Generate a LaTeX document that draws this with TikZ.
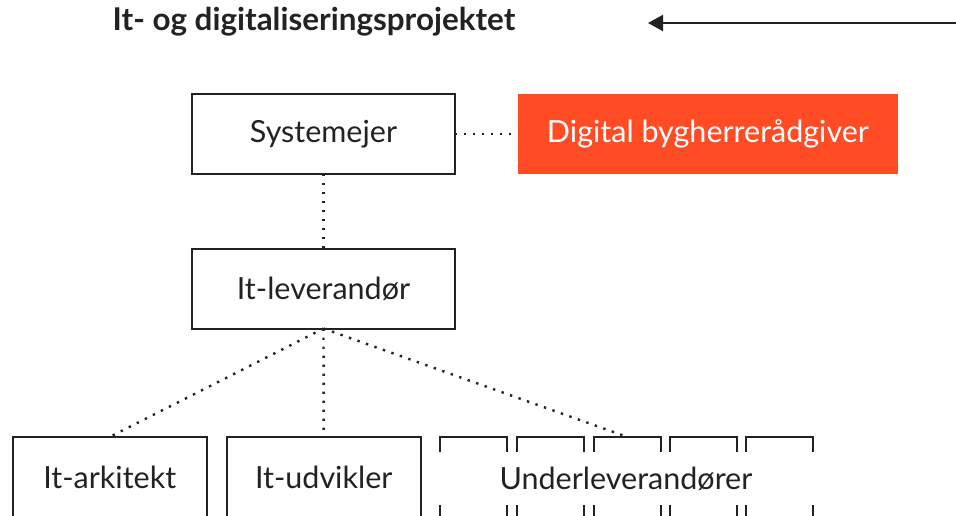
\documentclass[tikz,border=0pt]{standalone}
\usepackage{fontspec}
\setmainfont{Lato}
\usetikzlibrary{arrows.meta}
\definecolor{signal}{HTML}{FF4C24}
\definecolor{ink}{HTML}{222222}
\begin{document}
\begin{tikzpicture}[x=1pt,y=-1pt,
  every node/.style={inner sep=0pt, outer sep=0pt},
  label/.style={font=\fontsize{30.5}{36}\selectfont, text=ink},
  box/.style={label, draw=ink, line width=2pt, minimum width=263pt, minimum height=80pt},
  lowbox/.style={label, draw=ink, line width=2pt, minimum width=194pt, minimum height=80pt},
  subbox/.style={draw=ink, line width=2pt, minimum width=67pt, minimum height=80pt},
  accent/.style={fill=signal, text=white, font=\fontsize{30.5}{36}\selectfont, minimum width=380pt, minimum height=80pt},
  dotline/.style={ink, line width=2.4pt, dash pattern=on 2.4pt off 6.6pt},
  pointer/.style={ink, line width=2pt, -{Triangle[length=15pt,width=16pt]}}
]
\useasboundingbox (0,0) rectangle (956,515);
\clip (0,0) rectangle (956,515);

% heading and pointer
\node[font=\bfseries\fontsize{31.4}{37}\selectfont, text=ink] (title) at (314,22) {It- og digitaliseringsprojektet};
\coordinate (ptrstart) at (960,23);
\coordinate (ptrtip) at (648,23);
\draw[pointer] (ptrstart) -- (ptrtip);

% upper levels
\node[box] (sys) at (323.5,134) {Systemejer};
\node[accent] (dba) at (708,134) {Digital bygherrerådgiver};
\node[box] (lev) at (323.5,288.5) {It-leverandør};

% bottom row
\node[lowbox] (ark) at (109.7,477) {It-arkitekt};
\node[lowbox] (udv) at (323.7,477) {It-udvikler};
\foreach \i/\x in {1/473.5,2/550.9,3/627.5,4/703.5,5/779.1}
  \node[subbox] (u\i) at (\x,477) {};
\node[label, fill=white, minimum width=380pt, minimum height=53pt] (sub) at (626,478.5) {Underleverandører};

% connectors
\draw[dotline] (sys.east) -- (dba.west);
\draw[dotline] (sys.south) -- (lev.north);
\draw[dotline] (lev.south) -- (ark.north);
\draw[dotline] (lev.south) -- (udv.north);
\draw[dotline] (lev.south) -- (u3.north);
\end{tikzpicture}
\end{document}
